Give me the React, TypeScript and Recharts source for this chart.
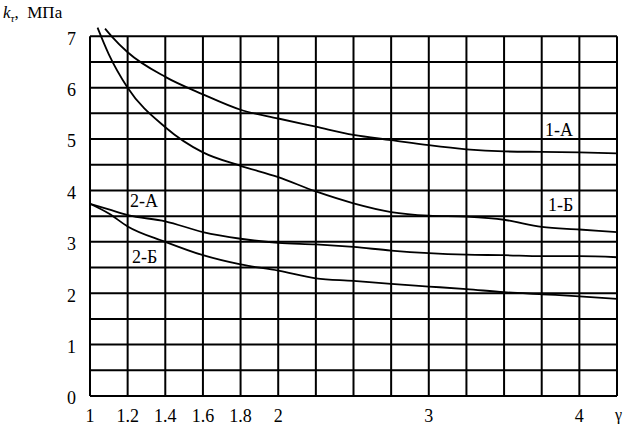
import React from 'react'
import { LineChart, Line, XAxis, YAxis, ReferenceLine } from 'recharts'

// x axis is piecewise: 1..2 step 0.2 per cell, 2..4.25 step 0.25 per cell
const toU = (g: number) => (g <= 2 ? (g - 1) / 0.2 : 5 + (g - 2) / 0.25)
const fromU = (u: number) => (u <= 5 ? 1 + u * 0.2 : 2 + (u - 5) * 0.25)

const gamma1A = [1.08, 1.115, 1.2, 1.4, 1.6, 1.8, 2.0, 2.25, 2.5, 2.75, 3.0, 3.25, 3.5, 3.75, 4.0, 4.25]
const k1A = [7.15, 7.0, 6.69, 6.21, 5.87, 5.57, 5.4, 5.24, 5.08, 4.98, 4.88, 4.8, 4.76, 4.75, 4.74, 4.72]

const gamma1B = [1.04, 1.1, 1.2, 1.4, 1.6, 1.8, 2.0, 2.25, 2.5, 2.75, 3.0, 3.25, 3.5, 3.75, 4.0, 4.25]
const k1B = [7.17, 6.65, 6.0, 5.23, 4.74, 4.48, 4.26, 3.98, 3.75, 3.58, 3.51, 3.49, 3.43, 3.29, 3.24, 3.19]

const gamma2A = [1.0, 1.1, 1.2, 1.4, 1.6, 1.8, 2.0, 2.25, 2.5, 2.75, 3.0, 3.25, 3.5, 3.75, 4.0, 4.25]
const k2A = [3.74, 3.63, 3.52, 3.4, 3.19, 3.06, 2.98, 2.95, 2.9, 2.83, 2.78, 2.75, 2.74, 2.72, 2.72, 2.7]

const gamma2B = [1.0, 1.1, 1.2, 1.4, 1.6, 1.8, 2.0, 2.25, 2.5, 2.75, 3.0, 3.25, 3.5, 3.75, 4.0, 4.25]
const k2B = [3.74, 3.55, 3.3, 3.0, 2.74, 2.56, 2.44, 2.29, 2.24, 2.18, 2.13, 2.08, 2.02, 1.98, 1.94, 1.89]

const xTickLabels = ['1', '1.2', '1.4', '1.6', '1.8', '2', '3', '4']
const yTicks = [0, 1, 2, 3, 4, 5, 6, 7]

const toSeries = (gs: number[], ks: number[]) => gs.map((g, i) => ({ u: toU(g), k: ks[i] }))

const series = [
  { name: '1-А', data: toSeries(gamma1A, k1A) },
  { name: '1-Б', data: toSeries(gamma1B, k1B) },
  { name: '2-А', data: toSeries(gamma2A, k2A) },
  { name: '2-Б', data: toSeries(gamma2B, k2B) },
]

const font = "'Liberation Serif', 'Times New Roman', serif"
const hLines = Array.from({ length: 15 }, (_, i) => i * 0.5)
const vLines = Array.from({ length: 15 }, (_, i) => i)

const txt: React.CSSProperties = {
  position: 'absolute',
  fontFamily: font,
  fontSize: 18,
  lineHeight: 1,
  color: '#000',
  whiteSpace: 'nowrap',
}

export default function App() {
  return (
    <div style={{ position: 'absolute', left: 0, top: 0, width: 627, height: 426, background: '#fff' }}>
      <LineChart width={627} height={426} margin={{ top: 26, right: 10, bottom: 0, left: 0 }}>
        <XAxis
          type="number"
          dataKey="u"
          domain={[0, 14]}
          ticks={xTickLabels.map((t) => toU(Number(t)))}
          tickFormatter={(v: number) => String(Math.round(fromU(v) * 10) / 10)}
          axisLine={false}
          tickLine={false}
          tickSize={0}
          tickMargin={13}
          height={30}
          tick={{ fill: '#000', fontSize: 18, fontFamily: font }}
          allowDuplicatedCategory={false}
        />
        <YAxis
          type="number"
          domain={[0, 7.2]}
          ticks={yTicks}
          axisLine={false}
          tickLine={false}
          tickSize={0}
          tickMargin={14}
          width={90}
          tick={{ fill: '#000', fontSize: 18, fontFamily: font, dy: 2 }}
        />
        {hLines.map((y) => (
          <ReferenceLine key={'h' + y} segment={[{ x: 0, y }, { x: 14, y }]} stroke="#000" strokeWidth={2} />
        ))}
        {vLines.map((x) => (
          <ReferenceLine key={'v' + x} segment={[{ x, y: 0 }, { x, y: 7 }]} stroke="#000" strokeWidth={2} />
        ))}
        {series.map((s) => (
          <Line
            key={s.name}
            data={s.data}
            dataKey="k"
            type="monotone"
            stroke="#000"
            strokeWidth={1.8}
            dot={false}
            isAnimationActive={false}
          />
        ))}
      </LineChart>
      <div style={{ ...txt, fontSize: 17, left: 3, top: 4 }}>
        <i>k</i>
        <span style={{ fontSize: 11, fontStyle: 'italic', position: 'relative', top: 4 }}>τ</span>
        <span>,&nbsp;&nbsp;МПа</span>
      </div>
      <div style={{ ...txt, left: 545, top: 121 }}>1-А</div>
      <div style={{ ...txt, left: 548, top: 196 }}>1-Б</div>
      <div style={{ ...txt, left: 130, top: 192 }}>2-А</div>
      <div style={{ ...txt, left: 132, top: 248 }}>2-Б</div>
      <div style={{ ...txt, left: 615, top: 407, fontSize: 16 }}>γ</div>
    </div>
  )
}
